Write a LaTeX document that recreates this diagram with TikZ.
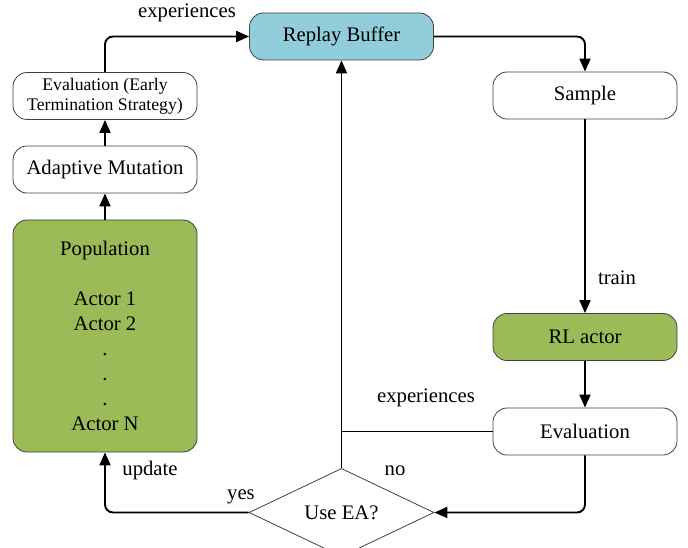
\documentclass[tikz,border=0pt]{standalone}
\usepackage{fontspec}
\setmainfont{LiberationSerif-Regular.ttf}[BoldFont=LiberationSerif-Bold.ttf]
\usetikzlibrary{shapes.geometric,arrows.meta}
\definecolor{rbblue}{HTML}{92CDDC}
\definecolor{acgreen}{HTML}{9BBB59}
\begin{document}
\begin{tikzpicture}[x=1pt,y=-1pt,
 box/.style={draw=black!75, line width=0.8pt, rounded corners=14pt, minimum width=184pt, minimum height=47pt, inner sep=0pt, align=center, font=\rmfamily\fontsize{20.7}{25}\selectfont},
 conn/.style={line width=1.9pt, rounded corners=8pt},
 arr/.style={conn, -{Triangle[length=13pt,width=11pt]}},
 lbl/.style={font=\rmfamily\fontsize{20.7}{25}\selectfont, inner sep=0pt}]
\useasboundingbox (0,0) rectangle (688,548);
\node[box, fill=rbblue] (rb) at (341.5,36.5) {Replay Buffer};
\node[box, font=\rmfamily\fontsize{17.7}{20}\selectfont] (evet) at (105,96) {Evaluation (Early\\Termination Strategy)};
\node[box] (am) at (105,169.5) {Adaptive Mutation};
\node[box, fill=acgreen, minimum height=232pt] (pop) at (105,336) {Population\\[25pt]Actor 1\\Actor 2\\.\\.\\.\\Actor N};
\node[box] (sa) at (585,95.5) {Sample};
\node[box, fill=acgreen] (rl) at (585,337) {RL actor};
\node[box] (ev) at (585,431.5) {Evaluation};
\node[diamond, draw=black!75, line width=0.8pt, minimum width=185pt, minimum height=65pt, inner sep=0pt, font=\rmfamily\fontsize{20.7}{25}\selectfont] (ea) at (341.5,512.5) {Use EA?};
\draw[arr] (evet.north) |- (rb.west);
\node[lbl] (l1) at (187,13) {experiences};
\draw[arr] (rb.east) -| (sa.north);
\draw[arr] (sa.south) -- (rl.north);
\node[lbl] (l2) at (617,278) {train};
\draw[arr] (rl.south) -- (ev.north);
\draw[arr] (pop.north) -- (am.south);
\draw[arr] (am.north) -- (evet.south);
\draw[arr] (ea.north) -- (rb.south);
\coordinate (j) at (ea.north |- ev.west);
\draw[conn] (ev.west) -- (j);
\draw[arr] (ev.south) |- (ea.east);
\draw[arr] (ea.west) -| (pop.south);
\node[lbl] (l3) at (426,398) {experiences};
\node[lbl] (l4) at (395,471) {no};
\node[lbl] (l5) at (241,497) {yes};
\node[lbl] (l6) at (150,471) {update};
\end{tikzpicture}
\end{document}
